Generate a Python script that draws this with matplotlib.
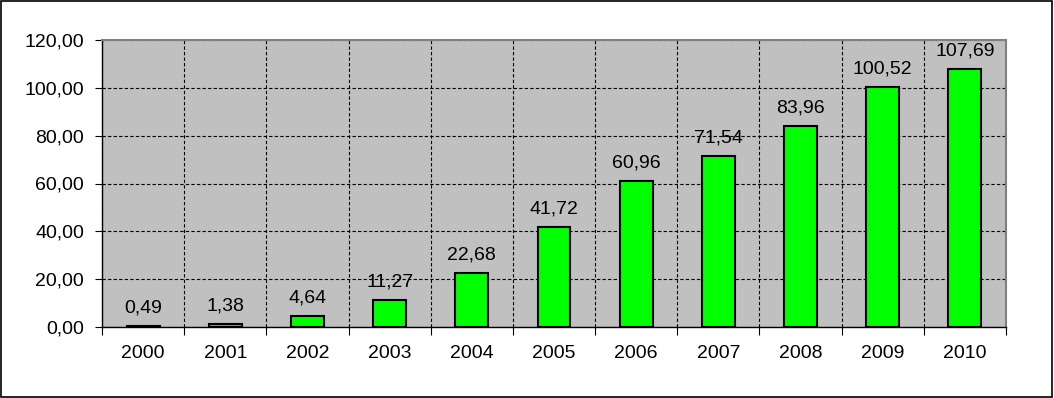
import matplotlib.pyplot as plt
from matplotlib.patches import Rectangle
from matplotlib.ticker import FuncFormatter, MultipleLocator
import numpy as np

plt.rcParams['font.family'] = ['Liberation Sans', 'DejaVu Sans']

years = ['2000', '2001', '2002', '2003', '2004', '2005',
         '2006', '2007', '2008', '2009', '2010']
values = [0.49, 1.38, 4.64, 11.27, 22.68, 41.72,
          60.96, 71.54, 83.96, 100.52, 107.69]


def comma(v, pos=None):
    return f'{v:.2f}'.replace('.', ',')


fig = plt.figure(figsize=(10.54, 3.98), dpi=100)
ax = fig.add_axes([102 / 1054, 1 - 327 / 398, (1006 - 102) / 1054, (327 - 40) / 398])

x = np.arange(len(years))
ax.set_facecolor('#C0C0C0')
ax.bar(x, values, width=0.4, color='#00FF00', edgecolor='black', linewidth=1.5, zorder=3)

for xi, v in zip(x, values):
    ax.text(xi, v + 4.0, comma(v), ha='center', va='bottom', fontsize=14, zorder=4)

ax.set_xlim(-0.5, len(years) - 0.5)
ax.set_ylim(0, 120)
ax.yaxis.set_major_locator(MultipleLocator(20))
ax.yaxis.set_major_formatter(FuncFormatter(comma))

# category labels centred, ticks on the boundaries
ax.set_xticks(np.arange(len(years) + 1) - 0.5)
ax.set_xticklabels([])
ax.set_xticks(x, minor=True)
ax.set_xticklabels(years, minor=True)
ax.tick_params(axis='x', which='minor', length=0, pad=13, labelsize=14)
ax.tick_params(axis='x', which='major', length=6, direction='out', color='black')
ax.tick_params(axis='y', length=5, direction='out', pad=8, labelsize=14)

ax.grid(True, which='major', color='black', linestyle=(0, (3, 2)), linewidth=0.8, zorder=1)
ax.set_axisbelow(True)

ax.spines['top'].set_color('#808080')
ax.spines['right'].set_color('#808080')
ax.spines['top'].set_linewidth(1.5)
ax.spines['right'].set_linewidth(1.5)
ax.spines['left'].set_linewidth(1)
ax.spines['bottom'].set_linewidth(1)

# outer frame around the chart
fig.patches.append(Rectangle((0.001, 0.002), 0.997, 0.995, transform=fig.transFigure,
                             fill=False, edgecolor='black', linewidth=1.2))

fig.savefig('out.png', dpi=100)
